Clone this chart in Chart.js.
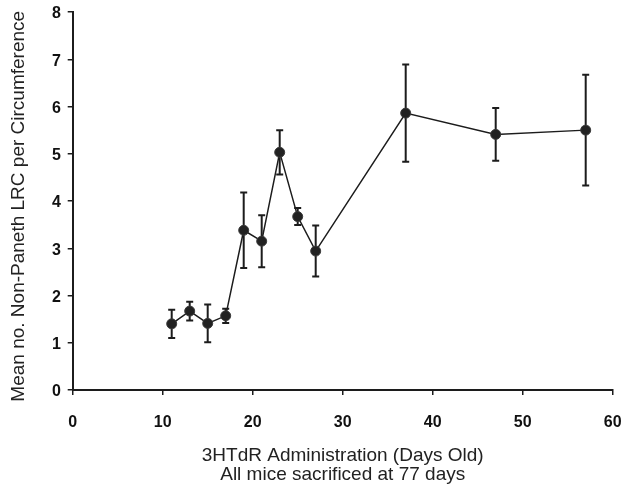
<!DOCTYPE html>
<html>
<head>
<meta charset="utf-8">
<script src="https://cdn.jsdelivr.net/npm/chart.js@4"></script>
<style>
  html, body { margin: 0; padding: 0; background: #ffffff; }
  #wrap { width: 624px; height: 488px; }
</style>
</head>
<body>
<div id="wrap"><canvas id="c" width="624" height="488"></canvas></div>
<script>
// ---- data ----
const daysOld = [11, 13, 15, 17, 19, 21, 23, 25, 27, 37, 47, 57];
const meanLRC = [1.40, 1.67, 1.41, 1.57, 3.38, 3.15, 5.03, 3.67, 2.94, 5.86, 5.41, 5.50];
const errLRC  = [0.30, 0.20, 0.40, 0.15, 0.80, 0.55, 0.47, 0.18, 0.54, 1.03, 0.56, 1.17];
const xTicks = [0, 10, 20, 30, 40, 50, 60];
const yTicks = [0, 1, 2, 3, 4, 5, 6, 7, 8];
const xTitle = ['3HTdR Administration (Days Old)', 'All mice sacrificed at 77 days'];
const yTitle = 'Mean no. Non-Paneth LRC per Circumference';

const INK = '#1c1c1c';

const errorBars = {
  id: 'errorBars',
  beforeDatasetsDraw(chart) {
    const ctx = chart.ctx;
    const xs = chart.scales.x, ys = chart.scales.y;
    ctx.save();
    ctx.strokeStyle = INK;
    ctx.lineWidth = 2;
    for (let i = 0; i < daysOld.length; i++) {
      const px = xs.getPixelForValue(daysOld[i]);
      const top = ys.getPixelForValue(meanLRC[i] + errLRC[i]);
      const bot = ys.getPixelForValue(meanLRC[i] - errLRC[i]);
      ctx.beginPath();
      ctx.moveTo(px, top); ctx.lineTo(px, bot);
      ctx.moveTo(px - 3.5, top); ctx.lineTo(px + 3.5, top);
      ctx.moveTo(px - 3.5, bot); ctx.lineTo(px + 3.5, bot);
      ctx.stroke();
    }
    ctx.restore();
  }
};

new Chart(document.getElementById('c'), {
  type: 'line',
  data: {
    datasets: [{
      data: daysOld.map((d, i) => ({ x: d, y: meanLRC[i] })),
      borderColor: INK,
      borderWidth: 1.5,
      pointRadius: 5,
      pointBackgroundColor: '#222',
      pointBorderColor: '#3a3a3a',
      pointBorderWidth: 1,
      tension: 0,
      fill: false
    }]
  },
  options: {
    responsive: false,
    animation: false,
    devicePixelRatio: 1,
    layout: { padding: { left: 0, right: 11.3, top: 12, bottom: 0 } },
    plugins: { legend: { display: false }, tooltip: { enabled: false } },
    scales: {
      x: {
        type: 'linear',
        min: 0, max: 60,
        afterBuildTicks(s) { s.ticks = xTicks.map(v => ({ value: v })); },
        afterFit(s) { s.height = 98; s.paddingLeft = 0; s.paddingRight = 0; },
        grid: { drawOnChartArea: false, drawTicks: true, tickLength: 5, color: INK, lineWidth: 1.5 },
        border: { display: true, color: INK, width: 2 },
        ticks: { color: '#111', padding: 18, font: { family: 'Liberation Sans, Arial', size: 16, weight: 'bold' } },
        title: {
          display: true, text: xTitle, color: '#222',
          padding: { top: 0, bottom: 3.5 },
          font: { family: 'Liberation Sans, Arial', size: 19, lineHeight: 1.0 }
        }
      },
      y: {
        type: 'linear',
        min: 0, max: 8,
        afterBuildTicks(s) { s.ticks = yTicks.map(v => ({ value: v })); },
        afterFit(s) { s.width = 72.7; s.paddingTop = 0; s.paddingBottom = 0; },
        grid: { drawOnChartArea: false, drawTicks: true, tickLength: 5, color: INK, lineWidth: 1.5 },
        border: { display: true, color: INK, width: 2 },
        ticks: { color: '#111', padding: 6.7, labelOffset: 2, font: { family: 'Liberation Sans, Arial', size: 16, weight: 'bold' } },
        title: {
          display: true, text: yTitle + '  ', color: '#222',
          padding: { top: 7.6, bottom: 0 },
          font: { family: 'Liberation Sans, Arial', size: 19 }
        }
      }
    }
  },
  plugins: [errorBars]
});
</script>
</body>
</html>
